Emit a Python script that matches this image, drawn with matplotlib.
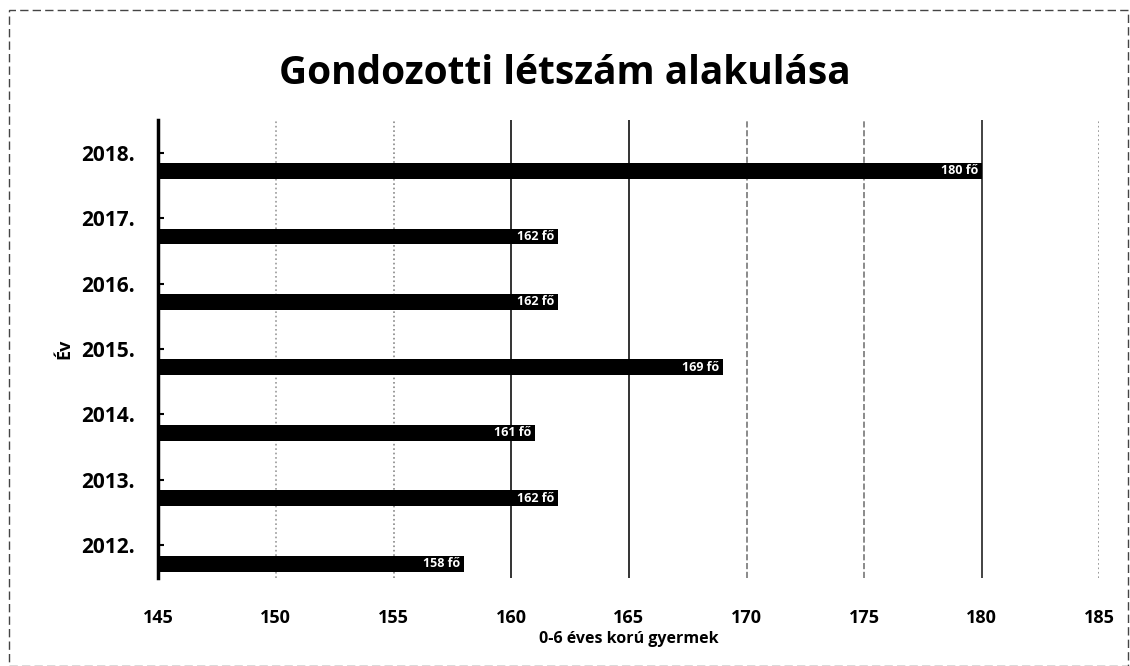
import matplotlib
matplotlib.use("Agg")
import matplotlib.pyplot as plt
from matplotlib.patches import Rectangle

years = ["2012.", "2013.", "2014.", "2015.", "2016.", "2017.", "2018."]
values = [158, 162, 161, 169, 162, 162, 180]
labels = ["158 fő", "162 fő", "161 fő", "169 fő", "162 fő", "162 fő", "180 fő"]
xticks = [145, 150, 155, 160, 165, 170, 175, 180, 185]

plt.rcParams['font.family'] = ['Open Sans', 'DejaVu Sans']

fig = plt.figure(figsize=(11.3, 6.66), dpi=100)
ax = fig.add_axes([0.14, 0.132, 0.833, 0.688])

ypos = list(range(len(years)))
bar_y = [y - 0.28 for y in ypos]
ax.barh(bar_y, [v - 145 for v in values], left=145, height=0.24, color='black', zorder=3)
for by, v, lab in zip(bar_y, values, labels):
    ax.text(v - 0.15, by, lab, color='white', ha='right', va='center',
            fontsize=9, fontweight='bold', zorder=4)

styles = {150: (':', '#999999'), 155: (':', '#888888'), 160: ('-', '#111111'),
          165: ('-', '#111111'), 170: ('--', '#777777'), 175: ('--', '#777777'),
          180: ('-', '#222222'), 185: (':', '#888888')}
for x, (ls, c) in styles.items():
    ax.axvline(x, color=c, linestyle=ls, linewidth=1.2, zorder=1)

ax.set_xlim(145, 185)
ax.set_ylim(-0.5, len(years) - 0.5)
ax.set_xticks(xticks)
ax.set_yticks(ypos)
ax.set_yticklabels(years)
ax.tick_params(axis='x', labelsize=13, length=0, pad=22)
ax.tick_params(axis='y', labelsize=15, length=4, direction='in', width=1.5, pad=17)
for t in ax.get_xticklabels() + ax.get_yticklabels():
    t.set_fontweight('bold')

for s in ['top', 'right', 'bottom']:
    ax.spines[s].set_visible(False)
ax.spines['left'].set_linewidth(2.5)

ax.set_xlabel("0-6 éves korú gyermek", fontsize=11.5, fontweight='bold', labelpad=3)
ax.set_ylabel("Év", fontsize=13, fontweight='bold', labelpad=5)

fig.text(0.5, 0.89, "Gondozotti létszám alakulása", ha='center', va='center',
         fontsize=28, fontweight='bold')

fig.patches.append(Rectangle((0.008, 0.0), 0.99, 0.985, transform=fig.transFigure,
                             fill=False, edgecolor='#444444', linewidth=1.0,
                             linestyle=(0, (6, 3))))

fig.savefig("out.png", dpi=100)
